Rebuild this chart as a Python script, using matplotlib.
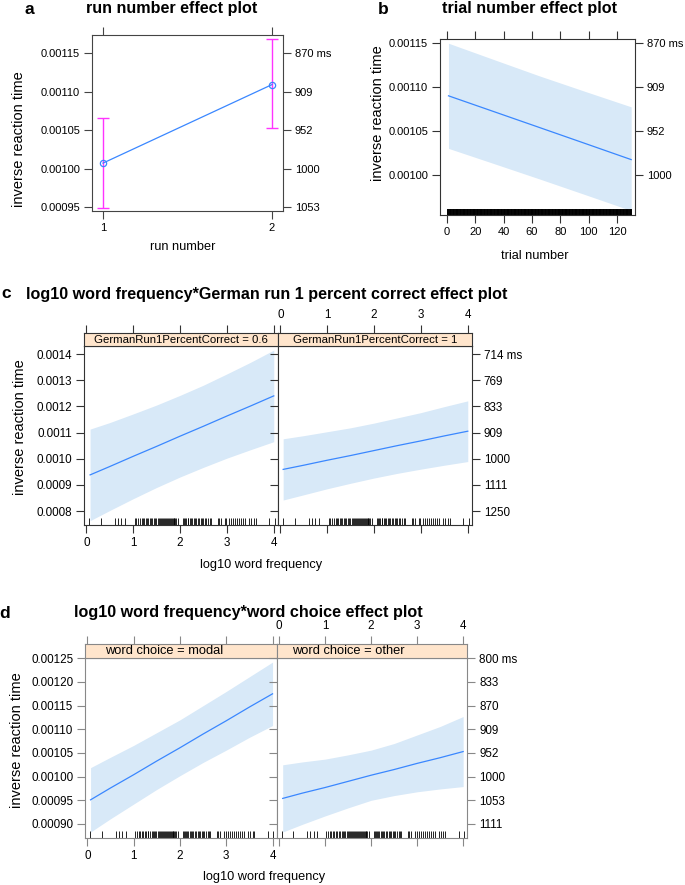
import matplotlib.pyplot as plt

plt.rcParams['font.family'] = ['Liberation Sans', 'DejaVu Sans']

FIG_W, FIG_H = 685, 885

BAND = '#D8E9F8'
LINE = '#3A87FF'
STRIP = '#FFE5CC'

# a: run number effect
run_number = [1, 2]
run_fit = [0.001007, 0.001109]
run_lower = [0.000949, 0.001052]
run_upper = [0.001065, 0.001168]
run_yticks = [0.00095, 0.00100, 0.00105, 0.00110, 0.00115]
run_ytick_labels = ["0.00095", "0.00100", "0.00105", "0.00110", "0.00115"]
run_ms_labels = ["1053", "1000", "952", "909", "870 ms"]

# b: trial number effect
trial_x = [1, 33, 65, 98, 130]
trial_fit = [0.0010901, 0.0010722, 0.0010543, 0.0010358, 0.0010178]
trial_lower = [0.0010305, 0.0010133, 0.0009960, 0.0009778, 0.0009600]
trial_upper = [0.0011497, 0.0011312, 0.0011128, 0.0010948, 0.0010776]
trial_rug = list(range(1, 131))
trial_xticks = [0, 20, 40, 60, 80, 100, 120]
trial_yticks = [0.00100, 0.00105, 0.00110, 0.00115]
trial_ytick_labels = ["0.00100", "0.00105", "0.00110", "0.00115"]
trial_ms_labels = ["1000", "952", "909", "870 ms"]

# word frequencies (rug in c and d)
word_freq = [0.06, 0.31, 0.61, 0.68, 0.75, 0.83, 1.03,
             1.07, 1.11, 1.14, 1.18, 1.20, 1.24, 1.27, 1.30, 1.32, 1.36, 1.39,
             1.41, 1.44, 1.47, 1.49, 1.52, 1.54, 1.57, 1.59, 1.61, 1.63, 1.66,
             1.68, 1.70, 1.72, 1.74, 1.76, 1.78, 1.80, 1.82, 1.84, 1.86, 1.88,
             1.90, 1.92, 1.95, 2.06, 2.08, 2.11, 2.13, 2.16, 2.18, 2.21, 2.24,
             2.26, 2.29, 2.32, 2.35, 2.38, 2.41, 2.44, 2.47, 2.50, 2.53, 2.56,
             2.60, 2.63, 2.66, 2.80, 2.83, 2.87, 2.95, 2.99, 3.04, 3.09, 3.12,
             3.17, 3.21, 3.25, 3.30, 3.35, 3.39, 3.47, 3.52, 3.57, 3.61, 3.90,
             4.02]
freq_ticks = [0, 1, 2, 3, 4]

# c: log10 word frequency * German run 1 percent correct
german_levels = ["GermanRun1PercentCorrect = 0.6", "GermanRun1PercentCorrect = 1"]
german_x = [[0.08, 0.5, 1, 1.5, 2, 2.5, 3, 3.5, 4],
            [0.06, 0.5, 1, 1.5, 2, 2.5, 3, 3.5, 4]]
german_fit = [[0.000938, 0.000970, 0.001009, 0.001047, 0.001086,
               0.001124, 0.001163, 0.001201, 0.001240],
              [0.000959, 0.000975, 0.000994, 0.001012, 0.001031,
               0.001050, 0.001068, 0.001087, 0.001105]]
german_lower = [[0.000763, 0.000802, 0.000847, 0.000890, 0.000930,
                 0.000967, 0.001002, 0.001034, 0.001065],
                [0.000842, 0.000862, 0.000885, 0.000906, 0.000926,
                 0.000944, 0.000960, 0.000975, 0.000989]]
german_upper = [[0.001113, 0.001138, 0.001171, 0.001205, 0.001242,
                 0.001281, 0.001324, 0.001368, 0.001415],
                [0.001076, 0.001088, 0.001103, 0.001118, 0.001136,
                 0.001156, 0.001176, 0.001199, 0.001221]]
german_yticks = [0.0008, 0.0009, 0.0010, 0.0011, 0.0012, 0.0013, 0.0014]
german_ytick_labels = ["0.0008", "0.0009", "0.0010", "0.0011", "0.0012", "0.0013", "0.0014"]
german_ms_labels = ["1250", "1111", "1000", "909", "833", "769", "714 ms"]

# d: log10 word frequency * word choice
choice_levels = ["word choice = modal", "word choice = other"]
choice_x = [[0.07, 0.5, 1, 1.5, 2, 2.5, 3, 3.5, 4],
            [0.08, 0.5, 1, 1.5, 2, 2.5, 3, 3.5, 4]]
choice_fit = [[0.000951, 0.000976, 0.001004, 0.001033, 0.001061,
               0.001090, 0.001118, 0.001147, 0.001175],
              [0.000954, 0.000965, 0.000977, 0.000990, 0.001003,
               0.001015, 0.001028, 0.001040, 0.001053]]
choice_lower = [[0.000883, 0.000911, 0.000942, 0.000973, 0.001002,
                 0.001030, 0.001056, 0.001083, 0.001108],
                [0.000883, 0.000899, 0.000917, 0.000934, 0.000950,
                 0.000960, 0.000968, 0.000974, 0.000979]]
choice_upper = [[0.001019, 0.001041, 0.001066, 0.001093, 0.001120,
                 0.001150, 0.001180, 0.001211, 0.001242],
                [0.001025, 0.001031, 0.001037, 0.001046, 0.001056,
                 0.001070, 0.001088, 0.001106, 0.001127]]
choice_yticks = [0.00090, 0.00095, 0.00100, 0.00105, 0.00110, 0.00115, 0.00120, 0.00125]
choice_ytick_labels = ["0.00090", "0.00095", "0.00100", "0.00105", "0.00110",
                       "0.00115", "0.00120", "0.00125"]
choice_ms_labels = ["1111", "1053", "1000", "952", "909", "870", "833", "800 ms"]


def px_box(x0, y0, x1, y1):
    return [x0 / FIG_W, 1 - y1 / FIG_H, (x1 - x0) / FIG_W, (y1 - y0) / FIG_H]


def fig_text(x, y, s, **kw):
    fig.text(x / FIG_W, 1 - y / FIG_H, s, **kw)


def style_axes(ax, edge, size=8):
    for s in ax.spines.values():
        s.set_color(edge)
        s.set_linewidth(0.8)
    ax.tick_params(direction='out', length=5.5, width=0.8, color=edge,
                   labelsize=size, pad=3)


def add_ms_axis(ax, ticks, labels, edge, size=8):
    ax2 = ax.twinx()
    ax2.set_ylim(ax.get_ylim())
    ax2.set_yticks(ticks)
    ax2.set_yticklabels(labels)
    ax2.tick_params(axis='y', direction='out', length=5.5, width=0.8,
                    color=edge, labelsize=size, pad=3)
    for s in ax2.spines.values():
        s.set_visible(False)
    return ax2


def add_rug(ax, values, height=0.04, lw=0.6):
    ax.vlines(values, 0, height, transform=ax.get_xaxis_transform(),
              color='black', lw=lw)


fig = plt.figure(figsize=(FIG_W / 100, FIG_H / 100), dpi=100)

# ---- panel a
ax = fig.add_axes(px_box(92, 35, 283, 211))
style_axes(ax, '#444444')
ax.errorbar(run_number, run_fit,
            yerr=[[f - l for f, l in zip(run_fit, run_lower)],
                  [u - f for f, u in zip(run_fit, run_upper)]],
            fmt='none', ecolor='#FF33FF', elinewidth=1, capsize=4, capthick=1)
ax.plot(run_number, run_fit, color=LINE, lw=0.9, marker='o', ms=4.5,
        mfc='none', mec=LINE, mew=0.9)
ax.set_xlim(0.935, 2.065)
ax.set_ylim(0.0009448, 0.0011734)
ax.set_xticks(run_number)
ax.set_yticks(run_yticks)
ax.set_yticklabels(run_ytick_labels)
ax.tick_params(top=True)
add_ms_axis(ax, run_yticks, run_ms_labels, '#444444')
fig_text(29, 9, 'a', ha='center', va='center', weight='bold', size=12.5)
fig_text(172, 9, 'run number effect plot', ha='center', va='center',
         weight='bold', size=11.6)
fig_text(19, 139, 'inverse reaction time', rotation=90, ha='center',
         va='center', size=10.5)
fig_text(183, 247, 'run number', ha='center', va='center', size=9.2)

# ---- panel b
ax = fig.add_axes(px_box(440, 39, 635, 215))
style_axes(ax, '#333333')
ax.fill_between(trial_x, trial_lower, trial_upper, color=BAND, lw=0)
ax.plot(trial_x, trial_fit, color=LINE, lw=0.9)
add_rug(ax, trial_rug, height=0.035, lw=1.4)
ax.set_xlim(-5, 132.7)
ax.set_ylim(0.000955, 0.0011545)
ax.set_xticks(trial_xticks)
ax.set_yticks(trial_yticks)
ax.set_yticklabels(trial_ytick_labels)
ax.tick_params(top=True)
add_ms_axis(ax, trial_yticks, trial_ms_labels, '#333333')
fig_text(383, 9, 'b', ha='center', va='center', weight='bold', size=12.5)
fig_text(530, 9, 'trial number effect plot', ha='center', va='center',
         weight='bold', size=11.6)
fig_text(378, 113, 'inverse reaction time', rotation=90, ha='center',
         va='center', size=10.5)
fig_text(535, 256, 'trial number', ha='center', va='center', size=9.2)


def effect_pair(xs, fits, lowers, uppers, levels, yticks, ytick_labels,
                ms_labels, ylim, left, mid, right, top, strip_top, bottom,
                edge, strip_size, strip_pos):
    xlim = (-0.05, 4.09)
    bounds = [(left, mid), (mid, right)]
    for i in range(2):
        x0, x1 = bounds[i]
        ax = fig.add_axes(px_box(x0, top, x1, bottom))
        style_axes(ax, edge, size=8.4)
        ax.fill_between(xs[i], lowers[i], uppers[i], color=BAND, lw=0)
        ax.plot(xs[i], fits[i], color=LINE, lw=0.9)
        add_rug(ax, word_freq, height=0.04)
        ax.set_xlim(xlim)
        ax.set_ylim(ylim)
        ax.set_xticks(freq_ticks)
        ax.set_yticks(yticks)
        if i == 0:
            ax.set_yticklabels(ytick_labels)
        else:
            ax.tick_params(left=False, labelleft=False, labelbottom=False)
            add_ms_axis(ax, yticks, ms_labels, edge, size=8.4)

        sax = fig.add_axes(px_box(x0, strip_top, x1, top))
        style_axes(sax, edge, size=8.4)
        sax.set_facecolor(STRIP)
        sax.set_xlim(xlim)
        sax.set_ylim(0, 1)
        sax.set_yticks([])
        sax.set_xticks(freq_ticks)
        sax.tick_params(axis='x', top=True, bottom=False, labelbottom=False,
                        labeltop=(i == 1))
        if strip_pos is None:
            sax.text(0.5, 0.45, levels[i], transform=sax.transAxes,
                     ha='center', va='center', size=strip_size)
        else:
            fig_text(strip_pos[i], (strip_top + top) / 2 + 0.5, levels[i],
                     ha='left', va='center', size=strip_size)


# ---- panel c
effect_pair(german_x, german_fit, german_lower, german_upper, german_levels,
            german_yticks, german_ytick_labels, german_ms_labels,
            (0.0007465, 0.0014306), 84, 278, 472, 346, 333, 525,
            '#333333', 8.2, None)
fig_text(6, 294, 'c', ha='center', va='center', weight='bold', size=12.5)
fig_text(267, 295, 'log10 word frequency*German run 1 percent correct effect plot',
         ha='center', va='center', weight='bold', size=11.6)
fig_text(20, 427, 'inverse reaction time', rotation=90, ha='center',
         va='center', size=10.5)
fig_text(261, 565, 'log10 word frequency', ha='center', va='center', size=9.2)

# ---- panel d
effect_pair(choice_x, choice_fit, choice_lower, choice_upper, choice_levels,
            choice_yticks, choice_ytick_labels, choice_ms_labels,
            (0.000871, 0.0012513), 85, 276.7, 467.3, 657.7, 644, 837.7,
            '#888888', 9.3, (105, 291.7))
fig_text(5, 613, 'd', ha='center', va='center', weight='bold', size=12.5)
fig_text(248, 612, 'log10 word frequency*word choice effect plot',
         ha='center', va='center', weight='bold', size=11.6)
fig_text(17, 740, 'inverse reaction time', rotation=90, ha='center',
         va='center', size=10.5)
fig_text(264, 877, 'log10 word frequency', ha='center', va='center', size=9.2)

fig.savefig('out.png', dpi=100)
